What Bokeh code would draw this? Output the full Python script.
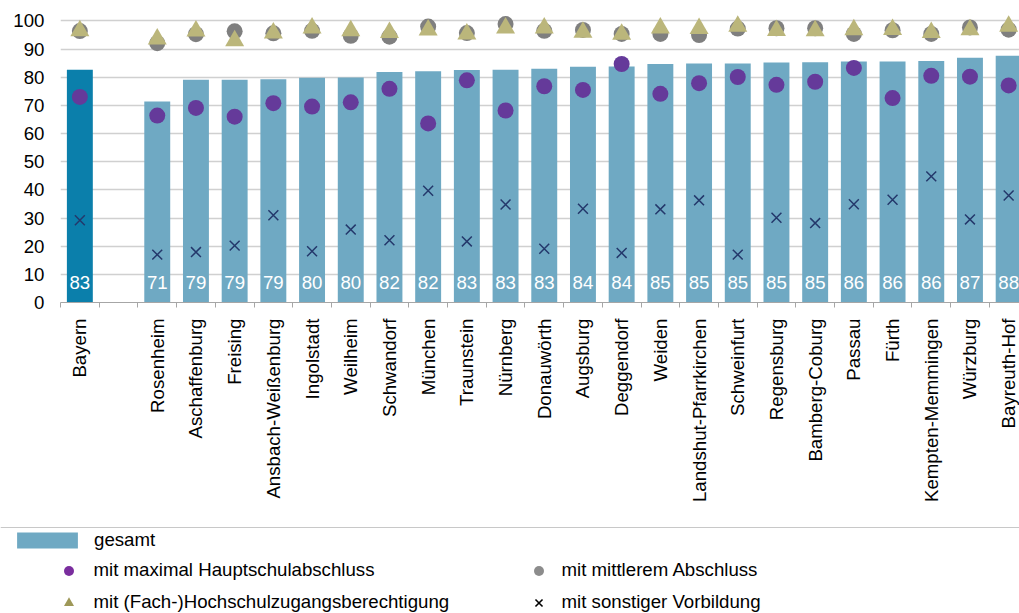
import math
from bokeh.plotting import figure
from bokeh.layouts import column
from bokeh.models import ColumnDataSource, FixedTicker, Range1d, Legend, LegendItem, Span
from bokeh.core.properties import value
from bokeh.embed import file_html
from bokeh.resources import INLINE

# ---- data ----
regions = ["Bayern", "Rosenheim", "Aschaffenburg", "Freising", "Ansbach-Weißenburg", "Ingolstadt",
           "Weilheim", "Schwandorf", "München", "Traunstein", "Nürnberg", "Donauwörth", "Augsburg",
           "Deggendorf", "Weiden", "Landshut-Pfarrkirchen", "Schweinfurt", "Regensburg",
           "Bamberg-Coburg", "Passau", "Fürth", "Kempten-Memmingen", "Würzburg", "Bayreuth-Hof"]
gesamt = [82.7, 71.4, 79.1, 79.1, 79.3, 79.8, 79.9, 81.9, 82.1, 82.6, 82.7, 83.0, 83.7,
          83.8, 84.7, 84.9, 84.9, 85.2, 85.3, 85.6, 85.6, 85.8, 86.9, 87.6]
hauptschule = [73.0, 66.4, 69.1, 66.0, 70.8, 69.6, 71.1, 75.9, 63.6, 78.9, 68.2, 76.8, 75.5,
               84.7, 74.1, 77.9, 80.1, 77.3, 78.4, 83.3, 72.6, 80.5, 80.2, 77.1]
mittlerer = [96.4, 92.1, 95.3, 96.3, 95.6, 96.5, 94.7, 94.4, 98.0, 95.7, 98.9, 96.5, 96.8,
             95.4, 95.4, 95.0, 97.3, 97.4, 97.4, 95.4, 96.7, 95.4, 97.7, 96.9]
hochschule = [96.5, 93.6, 96.4, 93.0, 95.7, 97.5, 96.5, 95.9, 96.8, 95.4, 97.5, 97.5, 96.0,
              95.3, 97.5, 97.3, 98.1, 96.6, 96.5, 96.9, 97.0, 95.9, 96.9, 98.1]
sonstige = [29.2, 17.0, 17.9, 20.2, 31.0, 18.2, 25.9, 22.1, 39.7, 21.7, 34.8, 19.1, 33.3,
            17.6, 33.1, 36.3, 17.0, 30.1, 28.2, 34.9, 36.5, 44.8, 29.5, 38.0]
y_ticks = [0, 10, 20, 30, 40, 50, 60, 70, 80, 90, 100]
legend_labels = ["gesamt", "mit maximal Hauptschulabschluss", "mit mittlerem Abschluss",
                 "mit (Fach-)Hochschulzugangsberechtigung", "mit sonstiger Vorbildung"]

# category slots: Bayern, an empty slot, then the regions
slots = [0] + [i + 2 for i in range(len(regions) - 1)]
xs = [s + 0.5 for s in slots]
colors = ["#0B7FAB"] + ["#6FA9C3"] * (len(regions) - 1)
labels_txt = [f"{v:.0f}" for v in gesamt]

src = ColumnDataSource(dict(x=xs, name=regions, gesamt=gesamt, haupt=hauptschule,
                            mittel=mittlerer, hoch=hochschule, sonst=sonstige,
                            color=colors, txt=labels_txt))

FONT = "Liberation Sans"
FS = "14pt"
W = 1019

p = figure(width=W, height=520, x_range=Range1d(0, 24.78), y_range=Range1d(0, 103),
           output_backend="svg", toolbar_location=None,
           min_border_left=60, min_border_right=0, min_border_top=12, min_border_bottom=218)
p.outline_line_color = None
p.frame_align = False

# grid
p.xgrid.visible = False
p.ygrid.ticker = FixedTicker(ticks=y_ticks)
p.ygrid.grid_line_color = "#D0D0D0"
p.ygrid.grid_line_width = 1.3

# y axis
p.yaxis.ticker = FixedTicker(ticks=y_ticks)
p.yaxis.axis_line_color = None
p.yaxis.major_tick_line_color = None
p.yaxis.minor_tick_line_color = None
p.yaxis.major_tick_out = 0
p.yaxis.major_tick_in = 0
p.yaxis.minor_tick_out = 0
p.yaxis.major_label_standoff = 16
p.yaxis.major_label_text_font = FONT
p.yaxis.major_label_text_font_size = FS
p.yaxis.major_label_text_color = "#000000"

# x axis
n_slots = len(regions) + 1
p.xaxis.ticker = FixedTicker(ticks=xs, minor_ticks=list(range(n_slots)))
p.xaxis.major_label_overrides = {x: n for x, n in zip(xs, regions)}
p.xaxis.major_label_orientation = math.pi / 2
p.xaxis.major_tick_out = 0
p.xaxis.major_tick_in = 0
p.xaxis.minor_tick_out = 5
p.xaxis.minor_tick_in = 0
p.xaxis.minor_tick_line_color = "#A6A6A6"
p.xaxis.axis_line_color = "#A6A6A6"
p.xaxis.major_label_standoff = 11
p.xaxis.major_label_text_font = FONT
p.xaxis.major_label_text_font_size = FS
p.xaxis.major_label_text_color = "#000000"

bars = p.vbar(x="x", top="gesamt", width=0.67, fill_color="color", line_color=None, source=src)
p.text(x="x", y=0, text="txt", source=src, text_color="white", text_font=value(FONT),
       text_font_size=FS, text_align="center", text_baseline="middle", y_offset=-20)

p.scatter("x", "sonst", source=src, marker="x", size=14, line_color="#24386B", line_width=1.5)
p.scatter("x", "haupt", source=src, marker="circle", size=16, fill_color="#653A9A", line_color=None)
p.scatter("x", "mittel", source=src, marker="circle", size=16, fill_color="#7F7F7F", line_color=None)
p.scatter("x", "hoch", source=src, marker="triangle", size=19, fill_color="#BBB67B", line_color=None)

# ---- legend panel (same series; its view window lies beside the data) ----
LH = 93
lg = figure(width=W, height=LH, x_range=Range1d(-2000, -2000 + W), y_range=Range1d(0, LH),
            output_backend="svg", toolbar_location=None,
            x_axis_location=None, y_axis_location=None,
            min_border_left=0, min_border_right=0, min_border_top=0, min_border_bottom=0)
lg.grid.visible = False
lg.outline_line_color = None
lg.frame_align = False

l_bars = lg.vbar(x="x", top="gesamt", width=0.67, fill_color="#6FA9C3", line_color=None, source=src)
l_sonst = lg.scatter("x", "sonst", source=src, marker="x", size=14, line_color="#000000", line_width=1.6)
l_haupt = lg.scatter("x", "haupt", source=src, marker="circle", size=16, fill_color="#7A2D9E", line_color=None)
l_mittel = lg.scatter("x", "mittel", source=src, marker="circle", size=16, fill_color="#8C8C8C", line_color=None)
l_hoch = lg.scatter("x", "hoch", source=src, marker="triangle", size=19, fill_color="#9E9858", line_color=None)

lg.add_layout(Span(location=LH - 7, dimension="width", line_color="#C8C8C8", line_width=1))

common = dict(padding=0, margin=0, border_line_color=None, background_fill_alpha=0,
              label_text_font=FONT, label_text_font_size=FS, label_text_color="#000000",
              label_height=20)

legA = Legend(items=[LegendItem(label=legend_labels[0], renderers=[l_bars])],
              location=(9, 62), glyph_width=76, glyph_height=20, label_standoff=9,
              spacing=0, **common)
legB = Legend(items=[LegendItem(label=legend_labels[1], renderers=[l_haupt]),
                     LegendItem(label=legend_labels[3], renderers=[l_hoch])],
              location=(55.5, -1.5), glyph_width=25, glyph_height=25, label_standoff=13,
              spacing=7, **common)
legC = Legend(items=[LegendItem(label=legend_labels[2], renderers=[l_mittel]),
                     LegendItem(label=legend_labels[4], renderers=[l_sonst])],
              location=(525.5, -1.5), glyph_width=25, glyph_height=25, label_standoff=11,
              spacing=7, **common)
for l in (legA, legB, legC):
    lg.add_layout(l)

layout = column(p, lg, spacing=0)
open("out.html", "w").write(file_html(layout, INLINE))
